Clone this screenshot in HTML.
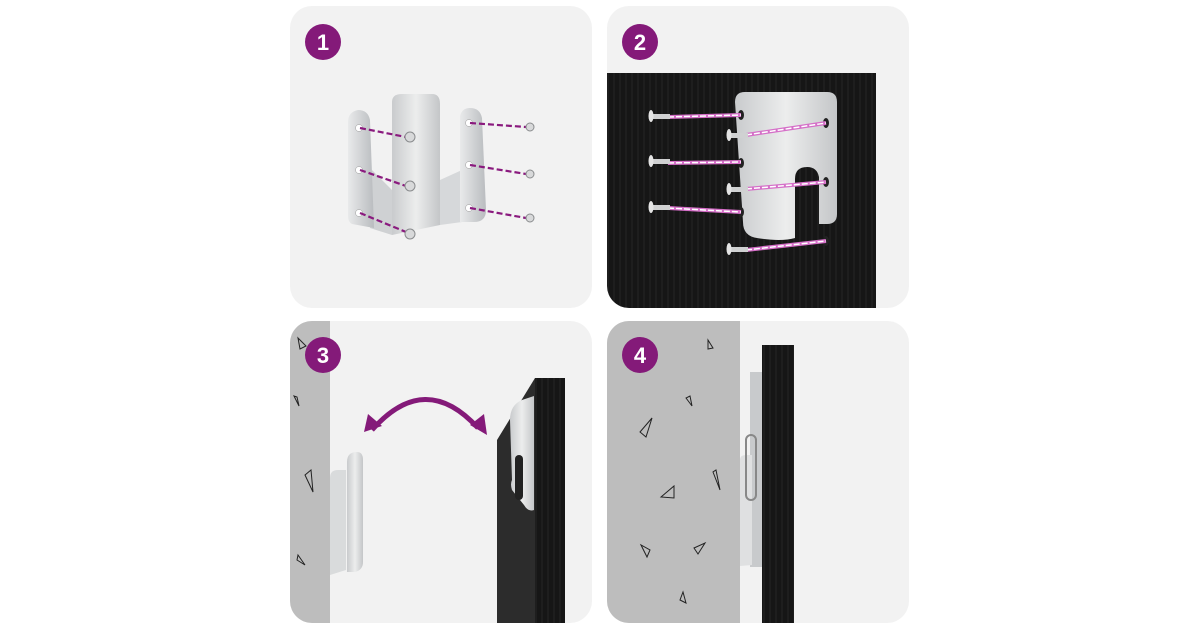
<!DOCTYPE html>
<html><head><meta charset="utf-8"><style>
html,body{margin:0;padding:0;background:#fff;}
svg{display:block}
text{font-family:"Liberation Sans",sans-serif;font-weight:bold;}
</style></head><body>
<svg width="1200" height="630" viewBox="0 0 1200 630" xmlns="http://www.w3.org/2000/svg">
<defs>
<clipPath id="c1"><rect x="290" y="6" width="302" height="302" rx="22"/></clipPath>
<clipPath id="c2"><rect x="607" y="6" width="302" height="302" rx="22"/></clipPath>
<clipPath id="c3"><rect x="290" y="321" width="302" height="302" rx="22"/></clipPath>
<clipPath id="c4"><rect x="607" y="321" width="302" height="302" rx="22"/></clipPath>
<linearGradient id="met" x1="0" x2="1"><stop offset="0" stop-color="#c9cbcd"/><stop offset="0.5" stop-color="#eceded"/><stop offset="1" stop-color="#c4c6c8"/></linearGradient>
<linearGradient id="met2" x1="0" x2="1"><stop offset="0" stop-color="#e9eaeb"/><stop offset="1" stop-color="#b9bcbf"/></linearGradient>
<pattern id="wood" width="6" height="60" patternUnits="userSpaceOnUse"><rect width="6" height="60" fill="#161616"/><line x1="2" y1="0" x2="2" y2="60" stroke="#2a2a2a" stroke-width="0.8"/></pattern>
</defs>
<!-- Panel 1 -->
<g clip-path="url(#c1)">
<rect x="290" y="6" width="302" height="302" fill="#f2f2f2"/>
<path d="M372 170 L392 190 L392 235 L370 228 Z" fill="#cfd1d3"/>
<path d="M348 122 q0-10 10-12 q10 0 12 10 L374 228 L352 224 q-4-2-4-8 Z" fill="url(#met2)"/>
<path d="M392 102 q0-8 10-8 h30 q8 0 8 10 V225 L392 235 Z" fill="url(#met)"/>
<path d="M440 180 L462 170 L462 222 L440 225 Z" fill="#d6d8da"/>
<path d="M460 116 q2-8 10-8 q10 0 12 10 L486 210 q0 12-12 12 L460 222 Z" fill="url(#met2)"/>
<g fill="#fff" stroke="#999" stroke-width="0.5">
<circle cx="359" cy="128" r="3.5"/><circle cx="359" cy="170" r="3.5"/><circle cx="359" cy="213" r="3.5"/>
<circle cx="469" cy="123" r="3.5"/><circle cx="469" cy="165" r="3.5"/><circle cx="469" cy="208" r="3.5"/>
</g>
<g stroke="#8a1a7e" stroke-width="2.2" stroke-dasharray="6,3">
<line x1="360" y1="128" x2="406" y2="137"/><line x1="360" y1="170" x2="406" y2="186"/><line x1="360" y1="213" x2="406" y2="232"/>
<line x1="470" y1="123" x2="526" y2="127"/><line x1="470" y1="165" x2="526" y2="174"/><line x1="470" y1="208" x2="526" y2="218"/>
</g>
<g fill="#d8d9da" stroke="#8a8c8e" stroke-width="1">
<circle cx="410" cy="137" r="5"/><circle cx="410" cy="186" r="5"/><circle cx="410" cy="234" r="5"/>
<circle cx="530" cy="127" r="4"/><circle cx="530" cy="174" r="4"/><circle cx="530" cy="218" r="4"/>
</g>
<circle cx="323" cy="42" r="18" fill="#841a79"/><text x="323" y="50" font-size="22" fill="#fff" text-anchor="middle">1</text>
</g>
<!-- Panel 2 -->
<g clip-path="url(#c2)">
<rect x="607" y="6" width="302" height="302" fill="#f2f2f2"/>
<rect x="607" y="73" width="269" height="240" fill="url(#wood)"/>
<path d="M735 102 q0-10 10-10 h82 q10 0 10 10 v112 q0 10-10 10 h-8 V177 q-2-10-12-10 q-12 0-12 12 V238 q-14 4-38 0 q-14-2-14-16 Z" fill="url(#met)"/>
<g fill="#222"><ellipse cx="741" cy="115" rx="3" ry="5"/><ellipse cx="741" cy="163" rx="3" ry="5"/><ellipse cx="741" cy="212" rx="3" ry="5"/>
<ellipse cx="826" cy="123" rx="3" ry="5"/><ellipse cx="826" cy="182" rx="3" ry="5"/><ellipse cx="826" cy="241" rx="3" ry="5"/></g>
<g stroke="#d56fc8" stroke-width="4"><line x1="668" y1="117" x2="741" y2="115"/><line x1="668" y1="163" x2="741" y2="162"/><line x1="668" y1="208" x2="741" y2="212"/>
<line x1="746" y1="135" x2="826" y2="123"/><line x1="746" y1="189" x2="826" y2="182"/><line x1="746" y1="250" x2="826" y2="241"/></g>
<g stroke="#fff" stroke-width="1.5" stroke-dasharray="6,2"><line x1="668" y1="117" x2="741" y2="115"/><line x1="668" y1="163" x2="741" y2="162"/><line x1="668" y1="208" x2="741" y2="212"/>
<line x1="746" y1="135" x2="826" y2="123"/><line x1="746" y1="189" x2="826" y2="182"/><line x1="746" y1="250" x2="826" y2="241"/></g>
<g fill="#d0d1d2"><rect x="652" y="114" width="18" height="5"/><rect x="652" y="159" width="18" height="5"/><rect x="652" y="205" width="18" height="5"/>
<rect x="730" y="133" width="18" height="5"/><rect x="730" y="187" width="18" height="5"/><rect x="730" y="247" width="18" height="5"/></g>
<g fill="#e4e4e4"><ellipse cx="651" cy="116" rx="2.5" ry="6"/><ellipse cx="651" cy="161" rx="2.5" ry="6"/><ellipse cx="651" cy="207" rx="2.5" ry="6"/>
<ellipse cx="729" cy="135" rx="2.5" ry="6"/><ellipse cx="729" cy="189" rx="2.5" ry="6"/><ellipse cx="729" cy="249" rx="2.5" ry="6"/></g>
<circle cx="640" cy="42" r="18" fill="#841a79"/><text x="640" y="50" font-size="22" fill="#fff" text-anchor="middle">2</text>
</g>
<!-- Panel 3 -->
<g clip-path="url(#c3)">
<rect x="290" y="321" width="302" height="302" fill="#f2f2f2"/>
<rect x="290" y="321" width="40" height="302" fill="#bdbdbd"/>
<path d="M330 478 q0-8 8-8 h8 V570 L330 575 Z" fill="#d9dbdc"/>
<path d="M347 462 q0-10 10-10 q6 0 6 8 V562 q0 8-8 10 L347 572 Z" fill="url(#met)"/>
<path d="M497 440 L535 378 H565 V623 H497 Z" fill="#2c2c2c"/>
<rect x="535" y="378" width="30" height="250" fill="url(#wood)"/>
<path d="M510 420 q0-15 12-20 l12-4 V510 q-6 2-10-5 L512 490 q-2-6 0-10 Z" fill="url(#met)"/>
<rect x="515" y="455" width="8" height="45" rx="4" fill="#222"/>
<path d="M372 430 Q425 370 478 428" fill="none" stroke="#841a79" stroke-width="5"/>
<polygon points="364,432 368,414 382,426" fill="#841a79"/>
<polygon points="487,435 470,425 484,414" fill="#841a79"/>
<g fill="none" stroke="#222" stroke-width="1"><polygon points="298,338 300,349 306,346"/><polygon points="294,396 299,406 297,397"/><polygon points="305,475 313,492 311,470"/><polygon points="297,560 305,565 298,555"/></g>
<circle cx="323" cy="355" r="18" fill="#841a79"/><text x="323" y="363" font-size="22" fill="#fff" text-anchor="middle">3</text>
</g>
<!-- Panel 4 -->
<g clip-path="url(#c4)">
<rect x="607" y="321" width="302" height="302" fill="#f2f2f2"/>
<rect x="607" y="321" width="133" height="302" fill="#bdbdbd"/>
<rect x="750" y="372" width="12" height="195" fill="#c8cacc"/>
<path d="M740 460 q0-5 6-5 h6 V565 L740 566 Z" fill="#dfe0e1"/>
<rect x="746" y="435" width="10" height="65" rx="5" fill="none" stroke="#888" stroke-width="2"/>
<rect x="762" y="345" width="32" height="280" fill="url(#wood)"/>
<g fill="none" stroke="#222" stroke-width="1"><polygon points="708,340 713,348 708,349"/><polygon points="686,398 692,406 690,396"/><polygon points="640,432 652,418 646,437"/><polygon points="661,497 674,486 674,498"/><polygon points="716,470 720,490 713,472"/><polygon points="641,545 647,557 650,550"/><polygon points="694,548 705,543 698,554"/><polygon points="680,600 686,603 683,592"/></g>
<circle cx="640" cy="355" r="18" fill="#841a79"/><text x="640" y="363" font-size="22" fill="#fff" text-anchor="middle">4</text>
</g>
</svg>
</body></html>
